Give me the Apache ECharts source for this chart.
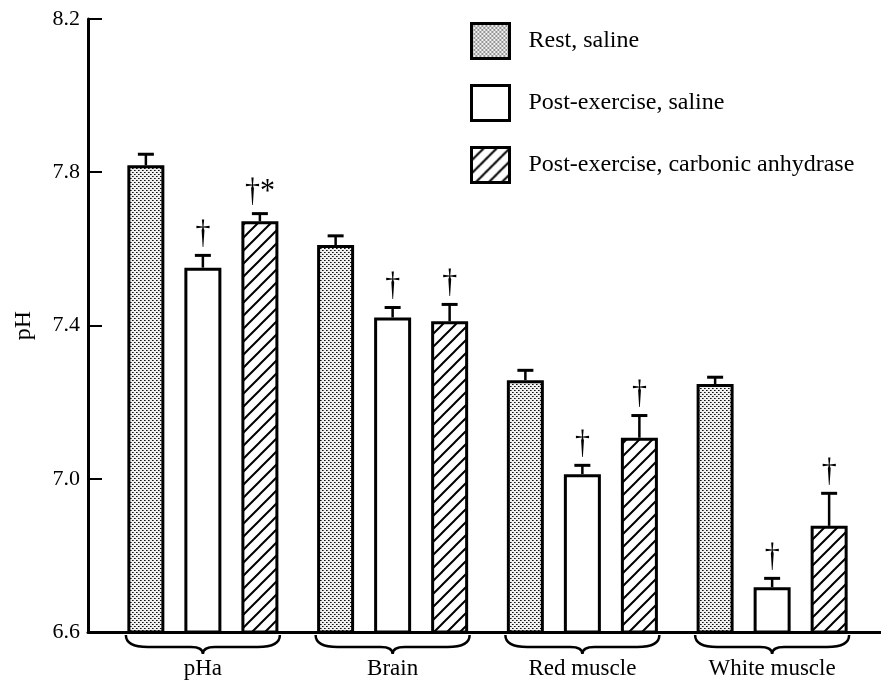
<!DOCTYPE html>
<html>
<head>
<meta charset="utf-8">
<script src="https://cdn.jsdelivr.net/npm/echarts@6/dist/echarts.min.js"></script>
<style>
  html, body { margin: 0; padding: 0; background: #fff; }
  #chart { width: 881px; height: 681px; }
</style>
</head>
<body>
<div id="chart"></div>
<script>
// Tissue pH at rest and after exercise
const categories = ['pHa', 'Brain', 'Red muscle', 'White muscle'];
const seriesNames = ['Rest, saline', 'Post-exercise, saline', 'Post-exercise, carbonic anhydrase'];

const restSaline      = [7.818, 7.610, 7.257, 7.247];
const restSalineErr   = [0.029, 0.024, 0.026, 0.018];
const postSaline      = [7.551, 7.421, 7.012, 6.717];
const postSalineErr   = [0.032, 0.026, 0.023, 0.023];
const postCA          = [7.672, 7.411, 7.107, 6.877];
const postCAErr       = [0.020, 0.044, 0.058, 0.085];

// significance marks above each bar
const restMarks       = ['', '', '', ''];
const postSalineMarks = ['\u2020', '\u2020', '\u2020', '\u2020'];
const postCAMarks     = ['\u2020*', '\u2020', '\u2020', '\u2020'];

const yMin = 6.6, yMax = 8.2, yStep = 0.4;

const FONT = '"Liberation Serif", "DejaVu Serif", serif';
const BAR_W = 37;
const BAR_GAP = 20;
const BAR_STEP = BAR_W + BAR_GAP;

// fill patterns
function stipple() {
  const c = document.createElement('canvas');
  c.width = 4; c.height = 4;
  const g = c.getContext('2d');
  g.fillStyle = '#f0f0f0';
  g.fillRect(0, 0, 4, 4);
  g.fillStyle = '#111';
  g.fillRect(0, 0, 1, 1);
  g.fillRect(2, 2, 1, 1);
  g.fillStyle = '#666';
  g.fillRect(1, 0, 1, 1);
  g.fillRect(3, 2, 1, 1);
  return c;
}
function hatch() {
  const s = 13;
  const c = document.createElement('canvas');
  c.width = s; c.height = s;
  const g = c.getContext('2d');
  g.fillStyle = '#fff';
  g.fillRect(0, 0, s, s);
  g.strokeStyle = '#000';
  g.lineWidth = 2;
  g.beginPath();
  g.moveTo(-2, s + 2); g.lineTo(s + 2, -2);
  g.moveTo(-2, 2); g.lineTo(2, -2);
  g.moveTo(s - 2, s + 2); g.lineTo(s + 2, s - 2);
  g.stroke();
  return c;
}

const fills = [
  { image: stipple(), repeat: 'repeat' },
  '#ffffff',
  { image: hatch(), repeat: 'repeat' }
];
const values = [restSaline, postSaline, postCA];
const errors = [restSalineErr, postSalineErr, postCAErr];
const marks = [restMarks, postSalineMarks, postCAMarks];

// error bar rows: [category index, series index, value, error]
const errRows = [];
const errMarks = [];
values.forEach((vals, s) => {
  vals.forEach((v, i) => {
    errRows.push([i, s, v, errors[s][i]]);
    errMarks.push(marks[s][i]);
  });
});

const chart = echarts.init(document.getElementById('chart'), null, { renderer: 'canvas' });

const barSeries = seriesNames.map((name, s) => ({
  name: name,
  type: 'bar',
  xAxisIndex: 1,
  yAxisIndex: 1,
  barWidth: BAR_W,
  barGap: (BAR_GAP / BAR_W * 100).toFixed(1) + '%',
  data: values[s],
  itemStyle: { color: fills[s], borderColor: '#000', borderWidth: 3 },
  emphasis: { disabled: true },
  animation: false
}));

const option = {
  animation: false,
  backgroundColor: '#fff',
  textStyle: { fontFamily: FONT, color: '#000' },
  legend: {
    orient: 'vertical',
    left: 470,
    top: 22,
    padding: 0,
    itemWidth: 38,
    itemHeight: 35,
    itemGap: 24,
    icon: 'rect',
    data: seriesNames,
    itemStyle: { borderColor: '#000', borderWidth: 3 },
    textStyle: { fontFamily: FONT, fontSize: 24, color: '#000', padding: [0, 0, 0, 14] },
    selectedMode: false
  },
  grid: [
    { left: 88, right: 0, top: 19, bottom: 49 },
    { left: 108, right: 14, top: 19, bottom: 49 }
  ],
  xAxis: [
    {
      type: 'value', gridIndex: 0, min: 0, max: 1,
      axisLine: { show: true, lineStyle: { color: '#000', width: 3 } },
      axisTick: { show: false }, axisLabel: { show: false }, splitLine: { show: false }
    },
    {
      type: 'category', gridIndex: 1, data: categories,
      axisLine: { show: false }, axisTick: { show: false },
      axisLabel: { fontFamily: FONT, fontSize: 23, color: '#000', margin: 25 }
    }
  ],
  yAxis: [
    {
      type: 'value', gridIndex: 0, min: yMin, max: yMax, interval: yStep,
      name: 'pH', nameLocation: 'middle', nameGap: 52, nameRotate: 90,
      nameTextStyle: { fontFamily: FONT, fontSize: 24, color: '#000' },
      axisLine: { show: true, lineStyle: { color: '#000', width: 3 } },
      axisTick: { show: true, inside: true, length: 14, lineStyle: { color: '#000', width: 2 } },
      axisLabel: { fontFamily: FONT, fontSize: 22, color: '#000', margin: 8,
                   formatter: v => v.toFixed(1) },
      splitLine: { show: false }
    },
    {
      type: 'value', gridIndex: 1, min: yMin, max: yMax, interval: yStep, show: false
    }
  ],
  series: barSeries.concat([
    {
      // error bars with significance marks
      type: 'custom',
      xAxisIndex: 1,
      yAxisIndex: 1,
      data: errRows,
      encode: { x: 0, y: 2 },
      z: 5,
      clip: false,
      renderItem: function (params, api) {
        const cat = api.value(0), s = api.value(1), v = api.value(2), e = api.value(3);
        const p = api.coord([cat, v]);
        const q = api.coord([cat, v + e]);
        const x = p[0] + (s - 1) * BAR_STEP;
        const children = [
          { type: 'line', shape: { x1: x, y1: p[1], x2: x, y2: q[1] },
            style: { stroke: '#000', lineWidth: 2.5 } },
          { type: 'line', shape: { x1: x - 8, y1: q[1], x2: x + 8, y2: q[1] },
            style: { stroke: '#000', lineWidth: 3 } }
        ];
        const m = errMarks[params.dataIndex];
        if (m) {
          children.push({
            type: 'text',
            x: x,
            y: q[1] - 4,
            scaleY: 1.15,
            style: { text: m, x: 0, y: 0, textAlign: 'center', textVerticalAlign: 'bottom',
                     font: '30px ' + FONT, fill: '#000' }
          });
        }
        return { type: 'group', children: children };
      }
    },
    {
      // braces under each tissue group
      type: 'custom',
      xAxisIndex: 1,
      yAxisIndex: 1,
      data: categories.map((c, i) => [i, yMin]),
      encode: { x: 0, y: 1 },
      clip: false,
      renderItem: function (params, api) {
        const base = api.coord([api.value(0), api.value(1)]);
        const cx = base[0];
        const half = BAR_STEP + BAR_W / 2 + 1.5;
        const x0 = cx - half, x1 = cx + half;
        const y0 = base[1] + 3;
        const d = `M${x0},${y0} C${x0},${y0 + 9} ${x0 + 8},${y0 + 12} ${x0 + 22},${y0 + 12} ` +
                  `L${cx - 12},${y0 + 12} C${cx - 4},${y0 + 12} ${cx},${y0 + 14} ${cx},${y0 + 19} ` +
                  `C${cx},${y0 + 14} ${cx + 4},${y0 + 12} ${cx + 12},${y0 + 12} ` +
                  `L${x1 - 22},${y0 + 12} C${x1 - 8},${y0 + 12} ${x1},${y0 + 9} ${x1},${y0}`;
        return {
          type: 'path',
          shape: { pathData: d },
          style: { stroke: '#000', lineWidth: 2.5, fill: null }
        };
      }
    }
  ])
};

chart.setOption(option);
</script>
</body>
</html>
